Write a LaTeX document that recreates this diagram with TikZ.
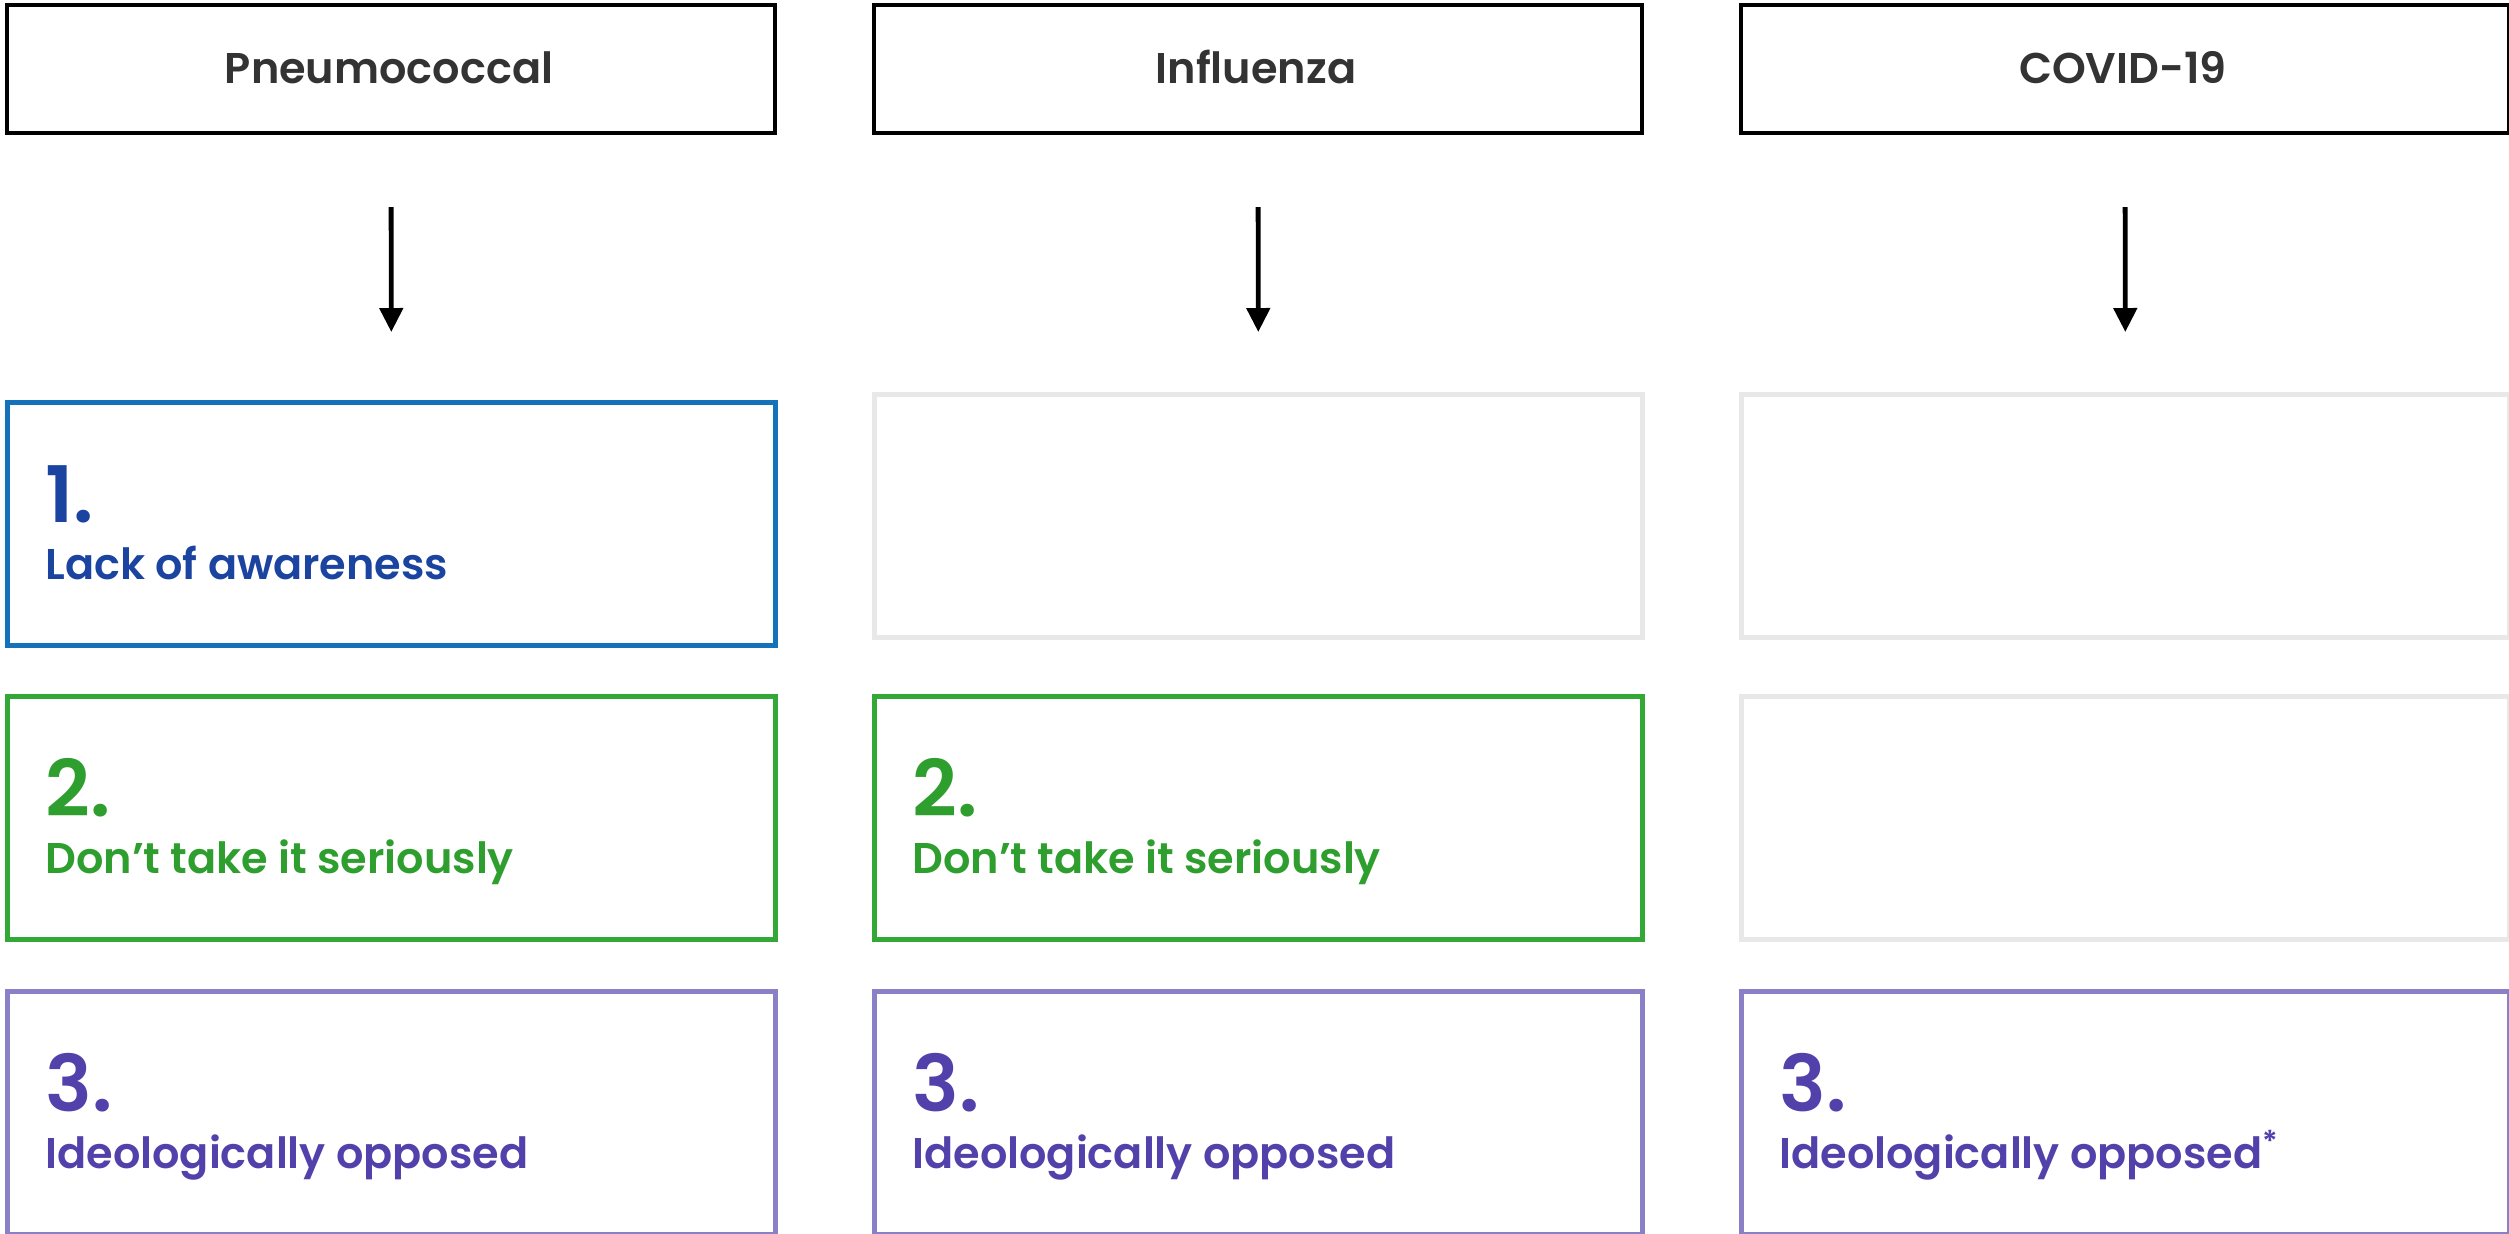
\documentclass[tikz,border=0pt]{standalone}
\usepackage{fontspec}
\setmainfont{Poppins}[BoldFont={Poppins SemiBold}]
\usetikzlibrary{arrows.meta,calc}
\definecolor{hdr}{HTML}{333333}
\definecolor{blueB}{HTML}{1372BA}
\definecolor{blueT}{HTML}{1A44A0}
\definecolor{greenB}{HTML}{34A836}
\definecolor{greenT}{HTML}{2E9E2E}
\definecolor{purB}{HTML}{8A80C8}
\definecolor{purT}{HTML}{5241AA}
\definecolor{greyB}{HTML}{E8E8E8}
\tikzset{
  box/.style={draw, rectangle, inner sep=0pt, minimum width=384pt, minimum height=121.5pt, anchor=north west},
  hbox/.style={box, draw=black, line width=2pt, minimum height=64pt},
  cbox/.style={box, line width=2.4pt},
  gbox/.style={box, draw=greyB, line width=2.4pt},
  htext/.style={font=\bfseries\fontsize{21.5}{24}\selectfont, text=hdr, anchor=base},
  num/.style={font=\bfseries\fontsize{39}{42}\selectfont, anchor=base west, inner sep=0pt},
  lab/.style={font=\bfseries\fontsize{21.5}{24}\selectfont, anchor=base west, inner sep=0pt},
  arr/.style={-{Triangle[length=12pt,width=11.5pt]}, line width=2.4pt, shorten <=36pt, shorten >=34pt}
}
\begin{document}
\begin{tikzpicture}[x=0.5pt,y=-0.5pt]
\useasboundingbox (0,0) rectangle (2509,1233);
% headers
\node[hbox] (h1) at (5,3) {};
\node[hbox] (h2) at (872,3) {};
\node[hbox] (h3) at (1739,3) {};
\node[htext] (t1) at (389,83) {Pneumococcal};
\node[htext] (t2) at (1256,83) {Influenza};
\node[htext] (t3) at (2123,83) {COVID-19};
% row 1
\node[cbox, draw=blueB] (a1) at (5,400) {};
\node[gbox] (a2) at (872,392) {};
\node[gbox] (a3) at (1739,392) {};
% row 2
\node[cbox, draw=greenB] (b1) at (5,694) {};
\node[cbox, draw=greenB] (b2) at (872,694) {};
\node[gbox] (b3) at (1739,694) {};
% row 3
\node[cbox, draw=purB] (c1) at (5,989) {};
\node[cbox, draw=purB] (c2) at (872,989) {};
\node[cbox, draw=purB] (c3) at (1739,989) {};
% arrows
\draw[arr] (h1.south) -- (a1.north);
\draw[arr] ($(h2.south)$) -- ($(a2.north)+(0,8)$);
\draw[arr] ($(h3.south)$) -- ($(a3.north)+(0,8)$);
% texts
\node[num, text=blueT] (n1) at ($(a1.north west)+(40,122)$) {1.};
\node[lab, text=blueT] (l1) at ($(a1.north west)+(40,179)$) {Lack of awareness};
\node[num, text=greenT] (n2) at ($(b1.north west)+(40,122)$) {2.};
\node[lab, text=greenT] (l2) at ($(b1.north west)+(40,179)$) {Don’t take it seriously};
\node[num, text=greenT] (n3) at ($(b2.north west)+(40,122)$) {2.};
\node[lab, text=greenT] (l3) at ($(b2.north west)+(40,179)$) {Don’t take it seriously};
\node[num, text=purT] (n4) at ($(c1.north west)+(40,122)$) {3.};
\node[lab, text=purT] (l4) at ($(c1.north west)+(40,179)$) {Ideologically opposed};
\node[num, text=purT] (n5) at ($(c2.north west)+(40,122)$) {3.};
\node[lab, text=purT] (l5) at ($(c2.north west)+(40,179)$) {Ideologically opposed};
\node[num, text=purT] (n6) at ($(c3.north west)+(40,122)$) {3.};
\node[lab, text=purT] (l6) at ($(c3.north west)+(40,179)$) {Ideologically opposed\textsuperscript{*}};
\end{tikzpicture}
\end{document}
